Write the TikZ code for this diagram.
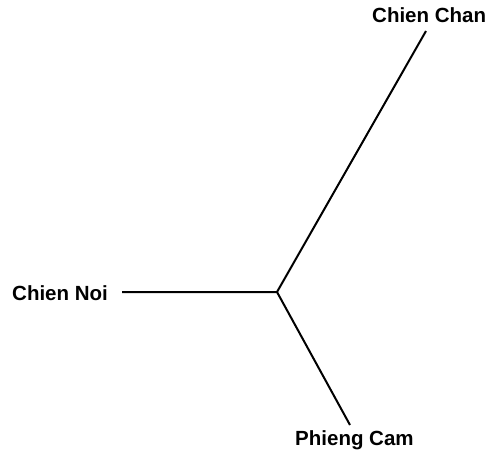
\documentclass[tikz,border=0pt]{standalone}
\usepackage{fontspec}
\setmainfont{Liberation Sans}
\begin{document}
\begin{tikzpicture}[x=1pt,y=-1pt,
  lbl/.style={inner sep=0pt,font=\fontsize{20.5}{24}\selectfont\bfseries,anchor=base west},
  edge/.style={line width=2pt}]
\useasboundingbox (0,0) rectangle (487,460);
\node[lbl] (noi) at (12,300) {Chien Noi};
\node[lbl] (chan) at (372,23) {Chien Chan};
\node[lbl] (cam) at (295,445) {Phieng Cam};
\coordinate (c) at (277,292);
\coordinate (a) at (122,292);
\coordinate (b) at (426,31);
\coordinate (d) at (350,425);
\draw[edge] (a) -- (c) -- (b);
\draw[edge] (c) -- (d);
\end{tikzpicture}
\end{document}
